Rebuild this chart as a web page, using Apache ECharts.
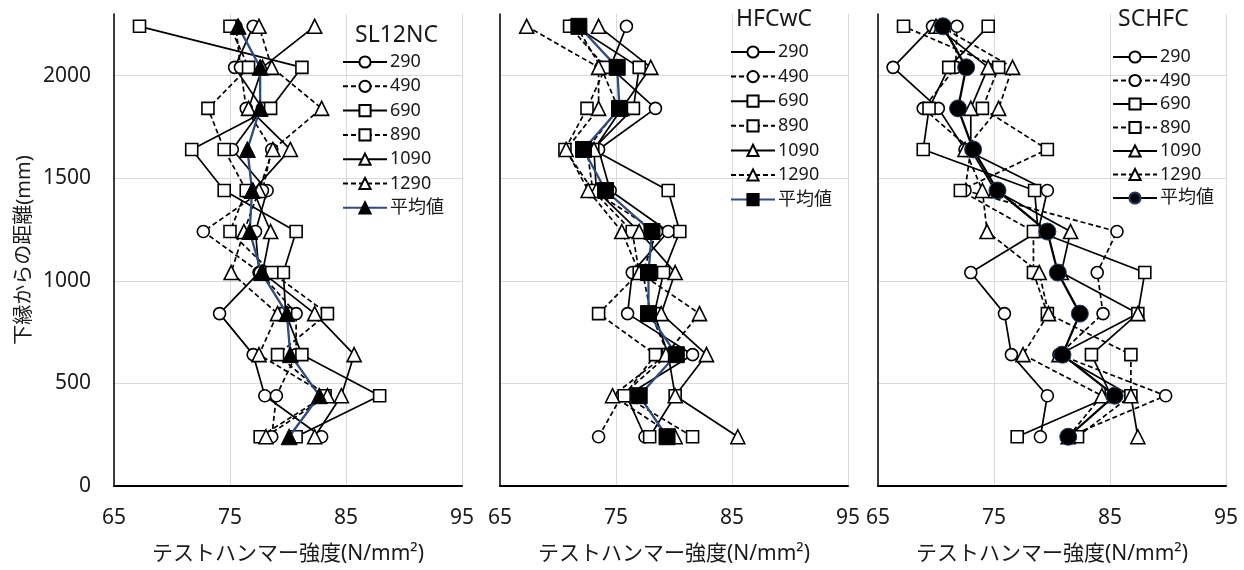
<!DOCTYPE html>
<html>
<head>
<meta charset="utf-8">
<script src="https://cdn.jsdelivr.net/npm/echarts@6/dist/echarts.min.js"></script>
<style>
html, body { margin: 0; padding: 0; background: #fff; }
#main { width: 1244px; height: 570px; }
</style>
</head>
<body>
<div id="main"></div>
<script>
// 高さ (mm) 下から上へ
const heights = [240, 440, 640, 840, 1040, 1240, 1440, 1640, 1840, 2040, 2240];
const legendNames = ['290', '490', '690', '890', '1090', '1290', '平均値'];
const panelTitles = ['SL12NC', 'HFCwC', 'SCHFC'];
const xTicks = [65, 75, 85, 95];
const yTicks = [0, 500, 1000, 1500, 2000];

// SL12NC
const sl290 = [82.9, 78.0, 77.0, 74.1, 77.5, 77.2, 78.2, 75.2, 77.8, 75.4, 77.0];
const sl490 = [78.6, 79.0, 80.7, 80.7, 77.6, 72.7, 77.8, 78.6, 76.4, 75.9, 75.5];
const sl690 = [80.7, 87.9, 81.2, 79.8, 79.6, 80.7, 74.5, 71.7, 78.5, 81.2, 67.2];
const sl890 = [77.6, 83.2, 79.1, 83.4, 78.6, 75.0, 76.4, 74.5, 73.1, 76.6, 75.0];
const sl1090 = [82.3, 84.6, 85.7, 82.3, 77.8, 78.5, 77.0, 80.2, 76.6, 77.8, 82.3];
const sl1290 = [78.1, 83.4, 77.5, 79.1, 75.1, 76.2, 77.5, 78.7, 82.9, 78.6, 77.5];
const slAvg = [80.1, 82.7, 80.2, 79.9, 77.7, 76.7, 76.9, 76.5, 77.6, 77.6, 75.7];

// HFCwC
const hf290 = [77.5, 75.9, 81.6, 76.0, 76.4, 79.5, 74.5, 73.5, 78.4, 74.5, 75.9];
const hf490 = [73.5, 75.5, 79.5, 78.0, 77.3, 78.5, 73.0, 72.5, 75.2, 73.7, 71.6];
const hf690 = [77.9, 80.1, 79.5, 78.3, 79.1, 80.5, 79.5, 73.0, 76.5, 77.0, 71.5];
const hf890 = [81.6, 75.7, 78.4, 73.5, 77.0, 76.4, 73.0, 70.6, 72.5, 74.1, 71.0];
const hf1090 = [85.5, 80.1, 82.8, 78.9, 80.1, 77.0, 73.3, 73.1, 75.5, 78.0, 73.5];
const hf1290 = [80.1, 74.7, 79.3, 82.2, 77.0, 75.5, 72.6, 70.7, 73.5, 73.5, 67.3];
const hfAvg = [79.4, 77.0, 80.2, 77.8, 77.8, 78.1, 74.1, 72.2, 75.3, 75.1, 71.8];

// SCHFC
const sc290 = [79.0, 79.6, 76.5, 75.9, 73.0, 78.8, 79.6, 72.5, 70.2, 66.3, 69.7];
const sc490 = [81.4, 89.8, 80.6, 84.4, 83.9, 85.6, 72.5, 73.0, 68.9, 71.7, 71.8];
const sc690 = [77.0, 85.1, 83.4, 87.4, 88.0, 78.8, 78.5, 68.9, 69.4, 71.1, 74.5];
const sc890 = [82.2, 86.8, 86.8, 79.6, 78.4, 78.4, 72.1, 79.6, 74.0, 75.4, 67.2];
const sc1090 = [87.4, 86.8, 80.6, 87.4, 80.8, 81.6, 75.1, 73.0, 73.0, 74.5, 70.0];
const sc1290 = [81.4, 84.3, 77.5, 79.7, 78.9, 74.4, 74.0, 72.5, 75.4, 76.6, 70.4];
const scAvg = [81.4, 85.4, 80.9, 82.4, 80.5, 79.6, 75.3, 73.2, 71.9, 72.6, 70.6];

const panelData = [
    [sl290, sl490, sl690, sl890, sl1090, sl1290, slAvg],
    [hf290, hf490, hf690, hf890, hf1090, hf1290, hfAvg],
    [sc290, sc490, sc690, sc890, sc1090, sc1290, scAvg]
];

const FONT = '"Noto Sans", "Noto Sans CJK JP", sans-serif';
const TEXT = '#1a1a1a';

// 見た目
const markStyles = [
    { symbol: 'circle', size: 12, dash: 'solid' },
    { symbol: 'circle', size: 12, dash: [5, 3] },
    { symbol: 'rect', size: 12, dash: 'solid' },
    { symbol: 'rect', size: 12, dash: [5, 3] },
    { symbol: 'triangle', size: 14, dash: 'solid' },
    { symbol: 'triangle', size: 14, dash: [5, 3] }
];
const avgStyles = [
    { symbol: 'triangle', size: 16, line: '#2f4a80', border: '#000' },
    { symbol: 'rect', size: 16, line: '#2f4a80', border: '#000' },
    { symbol: 'circle', size: 17, line: '#000', border: '#1f3864' }
];
const gridLeft = [114, 500, 878];
const legendPos = [
    { left: 342, top: 53, gap: 6.3 },
    { left: 730, top: 43, gap: 6.6 },
    { left: 1112, top: 48, gap: 5.5 }
];
const titlePos = [
    { left: 355, top: 24 },
    { left: 736, top: 8 },
    { left: 1118, top: 8 }
];

let grids = [], xAxes = [], yAxes = [], series = [], legends = [], titles = [];

for (let p = 0; p < 3; p++) {
    grids.push({ left: gridLeft[p], width: 348, top: 14, height: 474 });
    xAxes.push({
        gridIndex: p, type: 'value', min: xTicks[0], max: xTicks[xTicks.length - 1], interval: 10,
        axisLine: { show: true, onZero: false, lineStyle: { color: '#000', width: 2 } },
        axisTick: { show: false },
        axisLabel: { fontSize: 21, color: TEXT, margin: 22, fontFamily: FONT },
        splitLine: { show: true, lineStyle: { color: '#d9d9d9', width: 1 } },
        name: 'テストハンマー強度(N/mm²)', nameLocation: 'middle', nameGap: 58,
        nameTextStyle: { fontSize: 21, color: TEXT, fontFamily: FONT }
    });
    yAxes.push({
        gridIndex: p, type: 'value', min: 0, max: 2300, interval: 500,
        axisLine: { show: true, lineStyle: { color: '#000', width: 1.5 } },
        axisTick: { show: false },
        axisLabel: {
            show: p === 0, fontSize: 21, color: TEXT, margin: 23, fontFamily: FONT,
            formatter: v => (yTicks.indexOf(v) >= 0 ? String(v) : '')
        },
        splitLine: { show: true, showMaxLine: false, lineStyle: { color: '#d9d9d9', width: 1 } },
        name: p === 0 ? '下縁からの距離(mm)' : '', nameLocation: 'middle', nameGap: 80,
        nameTextStyle: { fontSize: 20, color: TEXT, fontFamily: FONT }
    });

    let names = [];
    panelData[p].forEach((vals, k) => {
        let name = panelTitles[p] + ':' + legendNames[k];
        names.push(name);
        let pts = vals.map((v, i) => [v, heights[i]]);
        if (k < 6) {
            let st = markStyles[k];
            series.push({
                name: name, type: 'line', xAxisIndex: p, yAxisIndex: p, data: pts,
                symbol: st.symbol, symbolSize: st.size, showAllSymbol: true,
                lineStyle: { color: '#000', width: 1.7, type: st.dash },
                itemStyle: { color: '#fff', borderColor: '#000', borderWidth: 1.6 },
                z: 2, animation: false
            });
        } else {
            let st = avgStyles[p];
            series.push({
                name: name, type: 'line', xAxisIndex: p, yAxisIndex: p, data: pts,
                symbol: st.symbol, symbolSize: st.size,
                lineStyle: { color: st.line, width: 2.3 },
                itemStyle: { color: '#000', borderColor: st.border, borderWidth: 1 },
                z: 5, animation: false
            });
        }
    });

    legends.push({
        data: names, orient: 'vertical', left: legendPos[p].left, top: legendPos[p].top,
        padding: 0, itemWidth: 44, itemHeight: 14, itemGap: legendPos[p].gap, selectedMode: false,
        formatter: n => n.split(':')[1],
        textStyle: { fontSize: 18, color: TEXT, fontFamily: FONT, padding: [0, 0, 0, -2] }
    });
    titles.push({
        text: panelTitles[p], left: titlePos[p].left, top: titlePos[p].top, padding: 0,
        textStyle: { fontSize: 23, fontWeight: 'normal', color: TEXT, fontFamily: FONT }
    });
}

let myChart = echarts.init(document.getElementById('main'));
let option = {
    animation: false,
    backgroundColor: '#fff',
    title: titles,
    legend: legends,
    grid: grids,
    xAxis: xAxes,
    yAxis: yAxes,
    series: series
};
option && myChart.setOption(option);
</script>
</body>
</html>
